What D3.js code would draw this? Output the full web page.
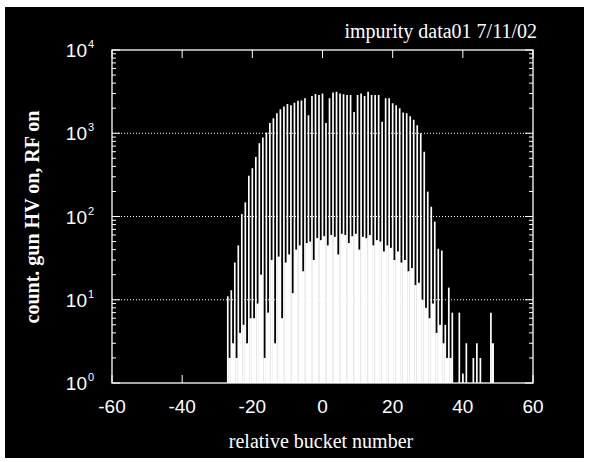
<!DOCTYPE html>
<html>
<head>
<meta charset="utf-8">
<script src="https://cdn.jsdelivr.net/npm/d3@7"></script>
<style>
  body { margin: 0; background: #fff; }
  svg { display: block; }
</style>
</head>
<body>
<div id="chart"></div>
<script>
// relative bucket positions
var buckets = [-27, -26, -25, -24, -23, -22, -21, -20, -19, -18, -17, -16, -15, -14, -13, -12,
  -11, -10, -9, -8, -7, -6, -5, -4, -3, -2, -1, 0, 1, 2, 3, 4, 5, 6, 7, 8, 9, 10, 11, 12, 13,
  14, 15, 16, 17, 18, 19, 20, 21, 22, 23, 24, 25, 26, 27, 28, 29, 30, 31, 32, 33, 34, 35, 36,
  37, 38, 39, 40, 41, 42, 43, 44, 45, 46, 47, 48, 49];

// tall spikes (counts at the bucket centre)
var peaks = [11, 13, 28, 45, 107, 148, 309, 380, 520, 760, 890, 1020, 1330, 1510, 1740, 1940,
  2090, 2240, 2170, 2330, 2450, 2470, 2630, 1640, 2800, 2960, 2880, 3000, 1330, 2630, 3080, 3150, 3000, 2950, 2880, 2880, 1800, 2880, 3000, 2800, 3150,
  2880, 2880, 2880, 1370, 2630, 2630, 2290, 2170, 1990, 1770, 1740, 1600, 1450, 1250, 1000, 600, 199, 131, 87, 41, 39, 5, 14,
  7, 0, 7, 1.3, 3, 0, 2, 3, 2, 0, 0, 7, 0];

// low counts in between the spikes (half bucket offset)
var lows = [2, 3, 2, 4, 5, 3, 6, 6, 9, 20, 2, 7, 30, 3, 33, 6,
  28, 35, 12, 40, 45, 22, 48, 50, 30, 55, 52, 58, 45, 60, 57, 35, 62, 60, 48, 58, 62, 40, 57, 55, 60,
  45, 52, 50, 38, 45, 42, 30, 38, 28, 30, 22, 24, 15, 16, 10, 8, 6, 9, 4, 5, 3, 2, 2,
  0, 0, 0, 0, 0, 0, 0, 0, 0, 0, 0, 3, 0];

var xTicks = [-60, -40, -20, 0, 20, 40, 60];
var yTicks = [1, 10, 100, 1000, 10000];
var yExps = ['0', '1', '2', '3', '4'];
var gridLines = [10, 100, 1000];

var W = 589, H = 462;
var pLeft = 112, pRight = 533, pTop = 50, pBottom = 383;

var svg = d3.select('#chart').append('svg').attr('width', W).attr('height', H);

// black panel with a thin white border round it
svg.append('rect').attr('x', 5).attr('y', 7).attr('width', 579).attr('height', 451).style('fill', '#000');

var x = d3.scaleLinear().domain([-60, 60]).range([pLeft, pRight]);
var y = d3.scaleLog().domain([1, 10000]).range([pBottom, pTop]);

// low series, drawn as narrow bars between spikes
buckets.forEach(function(b, i) {
  var v = lows[i];
  if (v < 1) return;
  svg.append('rect')
    .attr('x', x(b + 0.5) - 1.3).attr('y', y(v))
    .attr('width', 2.6).attr('height', pBottom - y(v))
    .style('fill', '#fff');
});

// tall spikes
buckets.forEach(function(b, i) {
  var v = peaks[i];
  if (v <= 1) return;
  svg.append('line')
    .attr('x1', x(b)).attr('x2', x(b))
    .attr('y1', pBottom).attr('y2', y(v))
    .style('stroke', '#fff').style('stroke-width', 1.7);
});

// dotted grid
gridLines.forEach(function(g) {
  svg.append('line')
    .attr('x1', pLeft).attr('x2', pRight)
    .attr('y1', y(g)).attr('y2', y(g))
    .style('stroke', '#fff').style('stroke-width', 1)
    .style('stroke-dasharray', '1,2');
});

// frame
svg.append('rect').attr('x', pLeft).attr('y', pTop)
  .attr('width', pRight - pLeft).attr('height', pBottom - pTop)
  .style('fill', 'none').style('stroke', '#fff').style('stroke-width', 1.3);

// x ticks, top and bottom, pointing in
xTicks.forEach(function(t) {
  svg.append('line').attr('x1', x(t)).attr('x2', x(t)).attr('y1', pTop).attr('y2', pTop + 8)
    .style('stroke', '#fff');
  svg.append('line').attr('x1', x(t)).attr('x2', x(t)).attr('y1', pBottom).attr('y2', pBottom - 8)
    .style('stroke', '#fff');
  drawText(t, x(t), 413, '19px', 'middle', 'Liberation Sans, Arial, sans-serif');
});

// y ticks, major and log minors, both sides
for (var e = 0; e < 4; e++) {
  for (var m = 2; m < 10; m++) {
    var yy = y(m * Math.pow(10, e));
    svg.append('line').attr('x1', pLeft).attr('x2', pLeft + 4).attr('y1', yy).attr('y2', yy).style('stroke', '#fff');
    svg.append('line').attr('x1', pRight).attr('x2', pRight - 4).attr('y1', yy).attr('y2', yy).style('stroke', '#fff');
  }
}
yTicks.forEach(function(t, i) {
  svg.append('line').attr('x1', pLeft).attr('x2', pLeft + 8).attr('y1', y(t)).attr('y2', y(t)).style('stroke', '#fff');
  svg.append('line').attr('x1', pRight).attr('x2', pRight - 8).attr('y1', y(t)).attr('y2', y(t)).style('stroke', '#fff');

  svg.append('text')
    .attr('x', 87).attr('y', y(t) + 7)
    .attr('text-anchor', 'end')
    .style('fill', '#fff').style('font-family', 'Liberation Sans, Arial, sans-serif')
    .style('font-size', '19px')
    .text('10');
  svg.append('text')
    .attr('x', 88).attr('y', y(t) - 2)
    .style('fill', '#fff').style('font-family', 'Liberation Sans, Arial, sans-serif')
    .style('font-size', '11px')
    .text(yExps[i]);
});

// titles
drawText('impurity data01 7/11/02', 537, 38, '20px', 'end', 'Liberation Serif, Times New Roman, serif');
drawText('relative bucket number', 321, 448, '20px', 'middle', 'Liberation Serif, Times New Roman, serif');

svg.append('text')
  .attr('transform', 'translate(39,217) rotate(-90)')
  .attr('text-anchor', 'middle')
  .style('fill', '#fff').style('font-family', 'Liberation Serif, Times New Roman, serif')
  .style('font-size', '20px').style('font-weight', 'bold')
  .text('count. gun HV on, RF on');

function drawText(txt, px, py, size, anchor, family) {
  svg.append('text')
    .attr('x', px).attr('y', py)
    .attr('text-anchor', anchor)
    .style('fill', '#fff')
    .style('font-family', family)
    .style('font-size', size)
    .text(txt);
}
</script>
</body>
</html>
